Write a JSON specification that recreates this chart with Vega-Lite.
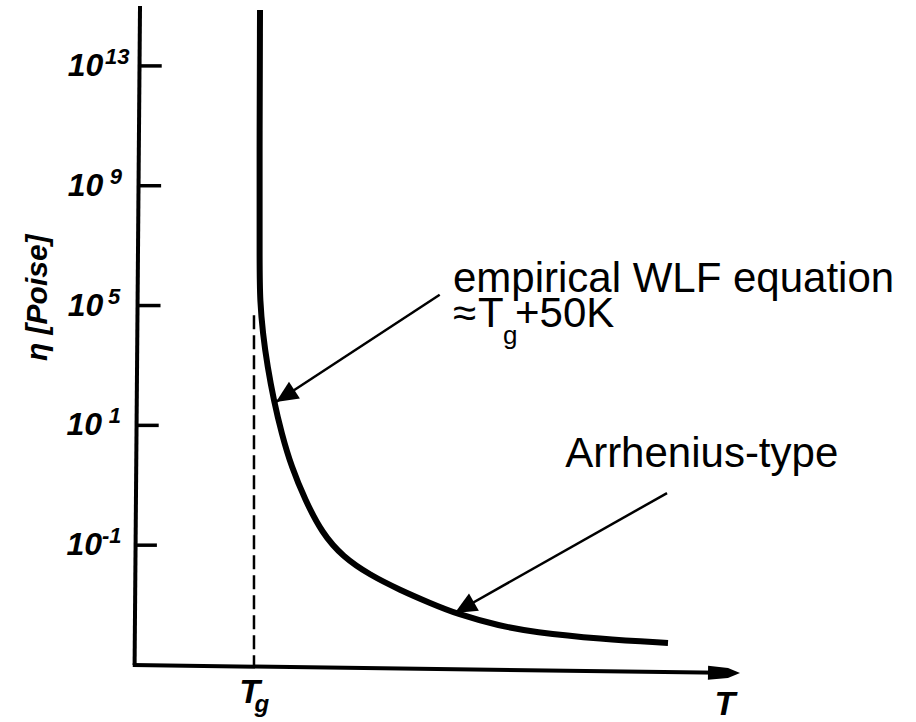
{
  "$schema": "https://vega.github.io/schema/vega-lite/v6.json",
  "width": 603,
  "height": 659,
  "autosize": {"type": "none"},
  "padding": {"left": 137, "top": 6, "right": 176, "bottom": 57},
  "background": "white",
  "config": {"view": {"stroke": null}},
  "datasets": {
    "curve": [
      {"o": 1, "x": 2.04, "y": 10.933},
      {"o": 2, "x": 2.032, "y": 8.596},
      {"o": 3, "x": 2.032, "y": 6.593},
      {"o": 4, "x": 2.04, "y": 6.093},
      {"o": 5, "x": 2.085, "y": 5.542},
      {"o": 6, "x": 2.165, "y": 4.974},
      {"o": 7, "x": 2.268, "y": 4.423},
      {"o": 8, "x": 2.396, "y": 3.872},
      {"o": 9, "x": 2.562, "y": 3.305},
      {"o": 10, "x": 2.789, "y": 2.754},
      {"o": 11, "x": 3.068, "y": 2.203},
      {"o": 12, "x": 3.416, "y": 1.803},
      {"o": 13, "x": 3.864, "y": 1.502},
      {"o": 14, "x": 4.362, "y": 1.252},
      {"o": 15, "x": 4.859, "y": 1.035},
      {"o": 16, "x": 5.307, "y": 0.851},
      {"o": 17, "x": 6.02, "y": 0.651},
      {"o": 18, "x": 6.567, "y": 0.551},
      {"o": 19, "x": 7.678, "y": 0.434},
      {"o": 20, "x": 8.806, "y": 0.367}
    ],
    "axes": [
      {"x": 0.05, "y": 11, "x2": -0.04, "y2": 0},
      {"x": -0.07, "y": 0, "x2": 9.7, "y2": -0.13}
    ],
    "ticks": [
      {"x": 0.03, "y": 10, "x2": 0.41, "y2": 10},
      {"x": 0.02, "y": 8, "x2": 0.4, "y2": 8},
      {"x": 0.01, "y": 6, "x2": 0.39, "y2": 6},
      {"x": 0.0, "y": 4, "x2": 0.36, "y2": 4},
      {"x": -0.01, "y": 2, "x2": 0.33, "y2": 2}
    ],
    "tg": [{"x": 1.94, "y": 5.84, "x2": 1.94, "y2": 0}],
    "arrows": [
      {"x": 5.02, "y": 6.18, "x2": 2.305, "y2": 4.39},
      {"x": 8.79, "y": 2.87, "x2": 5.27, "y2": 0.868}
    ],
    "ylabels": [
      {"x": -0.56, "xe": -0.53, "y": 10, "b": "10", "e": "13"},
      {"x": -0.56, "xe": -0.45, "y": 8, "b": "10", "e": "9"},
      {"x": -0.56, "xe": -0.48, "y": 6, "b": "10", "e": "5"},
      {"x": -0.58, "xe": -0.47, "y": 4, "b": "10", "e": "1"},
      {"x": -0.58, "xe": -0.58, "y": 2, "b": "10", "e": "-1"}
    ],
    "ytitle": [{"x": -1.64, "y": 6.13, "t": "η  [Poise]"}],
    "annot": [
      {"x": 5.24, "y": 6.226, "t": "empirical WLF equation"},
      {"x": 5.24, "y": 5.642, "t": "≈"},
      {"x": 5.655, "y": 5.642, "t": "T"},
      {"x": 6.27, "y": 5.642, "t": "+50K"},
      {"x": 7.1, "y": 3.305, "t": "Arrhenius-type"}
    ],
    "annotSub": [{"x": 6.07, "y": 5.358, "t": "g"}]
  },
  "encoding": {
    "x": {"field": "x", "type": "quantitative", "scale": {"domain": [0, 10], "nice": false, "zero": false}, "axis": null},
    "y": {"field": "y", "type": "quantitative", "scale": {"domain": [0, 11], "nice": false, "zero": false}, "axis": null}
  },
  "layer": [
    {
      "data": {"name": "axes"},
      "mark": {"type": "rule", "color": "black", "strokeWidth": 4},
      "encoding": {"x2": {"field": "x2"}, "y2": {"field": "y2"}}
    },
    {
      "data": {"name": "ticks"},
      "mark": {"type": "rule", "color": "black", "strokeWidth": 3.5},
      "encoding": {"x2": {"field": "x2"}, "y2": {"field": "y2"}}
    },
    {
      "data": {"name": "tg"},
      "mark": {"type": "rule", "color": "black", "strokeWidth": 2.5, "strokeDash": [14, 6]},
      "encoding": {"x2": {"field": "x2"}, "y2": {"field": "y2"}}
    },
    {
      "data": {"name": "arrows"},
      "mark": {"type": "rule", "color": "black", "strokeWidth": 2.5},
      "encoding": {"x2": {"field": "x2"}, "y2": {"field": "y2"}}
    },
    {
      "data": {"values": [{"x": 2.305, "y": 4.39}]},
      "mark": {"type": "point", "filled": true, "color": "black", "opacity": 1, "size": 400, "angle": 147, "shape": "M0,0 L-2.2,-1 L-2.2,1 Z"}
    },
    {
      "data": {"values": [{"x": 5.27, "y": 0.868}]},
      "mark": {"type": "point", "filled": true, "color": "black", "opacity": 1, "size": 400, "angle": 150.5, "shape": "M0,0 L-2.2,-1 L-2.2,1 Z"}
    },
    {
      "data": {"values": [{"x": 10, "y": -0.135}]},
      "mark": {"type": "point", "filled": true, "color": "black", "opacity": 1, "size": 400, "angle": 0.8, "shape": "M0,0 L-1.2,-0.5 L-3.2,-0.7 L-3.2,0.7 L-1.2,0.5 Z"}
    },
    {
      "data": {"name": "curve"},
      "mark": {"type": "line", "color": "black", "strokeWidth": 6, "interpolate": "basis"},
      "encoding": {"order": {"field": "o", "type": "quantitative"}}
    },
    {
      "data": {"name": "ylabels"},
      "mark": {"type": "text", "align": "right", "baseline": "middle", "font": "Liberation Sans, Arial, sans-serif", "fontStyle": "italic", "fontWeight": "bold", "fontSize": 32, "color": "black"},
      "encoding": {"text": {"field": "b"}}
    },
    {
      "data": {"name": "ylabels"},
      "mark": {"type": "text", "align": "left", "baseline": "middle", "dy": -9, "font": "Liberation Sans, Arial, sans-serif", "fontStyle": "italic", "fontWeight": "bold", "fontSize": 22, "color": "black"},
      "encoding": {"x": {"field": "xe", "type": "quantitative"}, "text": {"field": "e"}}
    },
    {
      "data": {"name": "ytitle"},
      "mark": {"type": "text", "align": "center", "baseline": "middle", "angle": 270, "font": "Liberation Sans, Arial, sans-serif", "fontStyle": "italic", "fontWeight": "bold", "fontSize": 30, "color": "black"},
      "encoding": {"text": {"field": "t"}}
    },
    {
      "data": {"values": [{"x": 1.87, "y": -0.64, "t": "T"}]},
      "mark": {"type": "text", "align": "center", "baseline": "alphabetic", "font": "Liberation Sans, Arial, sans-serif", "fontStyle": "italic", "fontWeight": "bold", "fontSize": 34, "color": "black"},
      "encoding": {"text": {"field": "t"}}
    },
    {
      "data": {"values": [{"x": 9.75, "y": -0.951, "t": "T"}]},
      "mark": {"type": "text", "align": "center", "baseline": "bottom", "font": "Liberation Sans, Arial, sans-serif", "fontStyle": "italic", "fontWeight": "bold", "fontSize": 34, "color": "black"},
      "encoding": {"text": {"field": "t"}}
    },
    {
      "data": {"values": [{"x": 1.95, "y": -0.78, "t": "g"}]},
      "mark": {"type": "text", "align": "left", "baseline": "alphabetic", "font": "Liberation Sans, Arial, sans-serif", "fontStyle": "italic", "fontWeight": "bold", "fontSize": 24, "color": "black"},
      "encoding": {"text": {"field": "t"}}
    },
    {
      "data": {"name": "annot"},
      "mark": {"type": "text", "align": "left", "baseline": "alphabetic", "font": "Liberation Sans, Arial, sans-serif", "fontSize": 42, "color": "black"},
      "encoding": {"text": {"field": "t"}}
    },
    {
      "data": {"name": "annotSub"},
      "mark": {"type": "text", "align": "left", "baseline": "alphabetic", "font": "Liberation Sans, Arial, sans-serif", "fontSize": 26, "color": "black"},
      "encoding": {"text": {"field": "t"}}
    }
  ]
}
